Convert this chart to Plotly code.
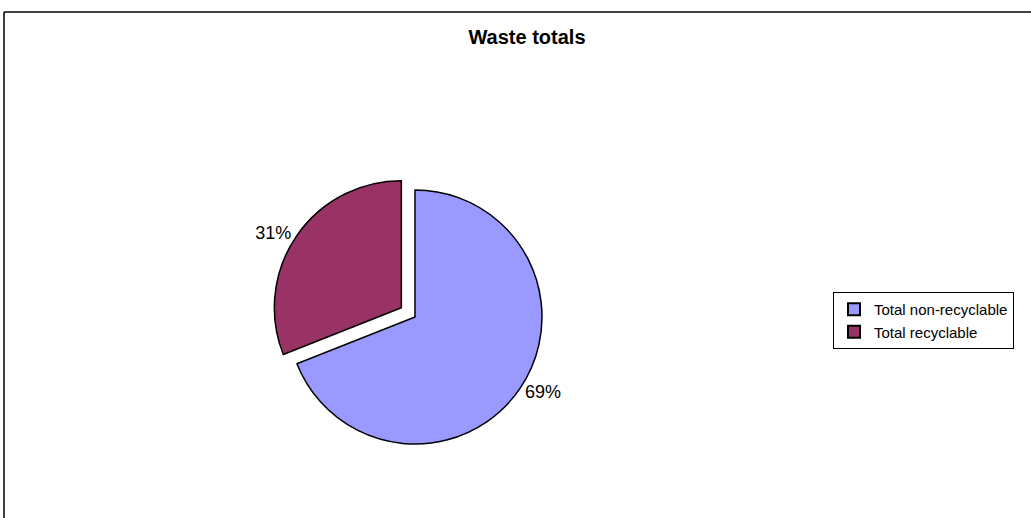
import plotly.graph_objects as go

categories = ["Total non-recyclable", "Total recyclable"]
values = [69, 31]
colors = ["#9999FF", "#993366"]
pulls = [0, 0.13]

W, H = 1031, 518
cx, cy, half = 415, 317, 143.5

fig = go.Figure(go.Pie(
    labels=categories,
    values=values,
    sort=False,
    direction="clockwise",
    rotation=0,
    pull=pulls,
    marker=dict(colors=colors, line=dict(color="#000000", width=1.5)),
    textinfo="percent",
    textposition="outside",
    texttemplate="%{percent:.0%}",
    outsidetextfont=dict(family="Liberation Sans, Arial", size=18, color="#000000"),
    automargin=False,
    hoverinfo="label+percent",
    domain=dict(x=[(cx - half) / W, (cx + half) / W],
                y=[1 - (cy + half) / H, 1 - (cy - half) / H]),
))

fig.update_layout(
    width=W, height=H,
    margin=dict(l=0, r=0, t=0, b=0),
    paper_bgcolor="#FFFFFF",
    plot_bgcolor="#FFFFFF",
    font=dict(family="Liberation Sans, Arial", color="#000000"),
    title=dict(text="<b>Waste totals</b>", x=527 / W, xanchor="center",
               y=1 - 37 / H, yanchor="middle",
               font=dict(family="Liberation Sans, Arial", size=20, color="#000000")),
    legend=dict(x=833 / W, xanchor="left", y=1 - 292 / H, yanchor="top",
                bordercolor="#000000", borderwidth=1, bgcolor="#FFFFFF",
                font=dict(family="Liberation Sans, Arial", size=15, color="#000000"),
                itemsizing="constant", itemwidth=30),
    shapes=[
        dict(type="line", xref="paper", yref="paper", x0=4 / W, x1=1, y0=1 - 12 / H, y1=1 - 12 / H,
             line=dict(color="#000000", width=1.5)),
        dict(type="line", xref="paper", yref="paper", x0=4 / W, x1=4 / W, y0=0, y1=1 - 12 / H,
             line=dict(color="#000000", width=1.5)),
    ],
)

fig.write_html("out.html", config={"displayModeBar": False},
               post_script="document.body.style.margin='0';")
